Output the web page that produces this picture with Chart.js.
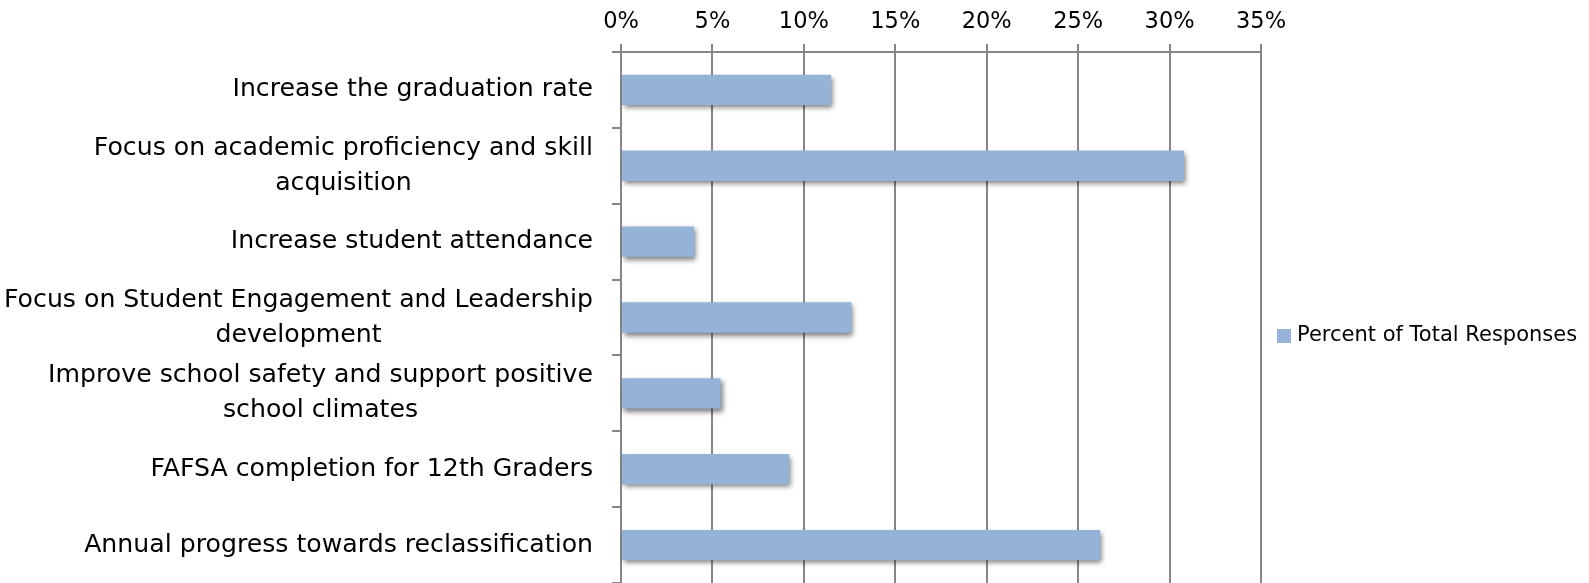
<!DOCTYPE html>
<html>
<head>
<meta charset="utf-8">
<script src="https://cdn.jsdelivr.net/npm/chart.js@4.4.1/dist/chart.umd.min.js"></script>
<style>
  html, body { margin: 0; padding: 0; background: #ffffff; }
  #wrap { width: 1589px; height: 583px; position: relative; }
</style>
</head>
<body>
<div id="wrap"><canvas id="c" width="1589" height="583"></canvas></div>
<script>
// ---- data ----
const categories = [
  "Increase the graduation rate",
  ["Focus on academic proficiency and skill", "acquisition"],
  "Increase student attendance",
  ["Focus on Student Engagement and Leadership", "development"],
  ["Improve school safety and support positive", "school climates"],
  "FAFSA completion for 12th Graders",
  "Annual progress towards reclassification"
];
const seriesName = "Percent of Total Responses";
const percentValues = [11.5, 30.8, 4.0, 12.6, 5.45, 9.2, 26.2];
const tickMin = 0, tickMax = 35, tickStep = 5;

// ---- style ----
const FAMILY = '"DejaVu Sans", "Liberation Sans", sans-serif';
const BAR_COLOR = '#95B3D7';
const GRID_COLOR = '#868686';

// fit font sizes to measured text widths in the reference
const mctx = document.createElement('canvas').getContext('2d');
function fitSize(text, target) {
  mctx.font = '100px ' + FAMILY;
  return Math.round(100 * target / mctx.measureText(text).width * 10) / 10;
}
const catSize = fitSize("Increase the graduation rate", 361);
const tickSize = fitSize("10%", 50);
const legendSize = fitSize(seriesName, 280);

const shadowPlugin = {
  id: 'barShadow',
  beforeDatasetsDraw(chart) {
    const ctx = chart.ctx;
    ctx.save();
    ctx.shadowColor = 'rgba(0,0,0,0.5)';
    ctx.shadowBlur = 5;
    ctx.shadowOffsetX = 2;
    ctx.shadowOffsetY = 3;
  },
  afterDatasetsDraw(chart) {
    chart.ctx.restore();
  }
};

const yLabelPlugin = {
  id: 'yLabels',
  afterDraw(chart) {
    const ctx = chart.ctx;
    const yScale = chart.scales.y;
    const rightEdge = chart.chartArea.left - 28;
    const lineGap = 35;
    ctx.save();
    ctx.font = catSize + 'px ' + FAMILY;
    ctx.fillStyle = '#000000';
    ctx.textAlign = 'center';
    ctx.textBaseline = 'middle';
    categories.forEach((lab, i) => {
      const lines = Array.isArray(lab) ? lab : [lab];
      const blockW = Math.max(...lines.map(l => ctx.measureText(l).width));
      const cx = rightEdge - blockW / 2;
      const cy = yScale.getPixelForValue(i);
      const y0 = cy - (lines.length - 1) * lineGap / 2;
      lines.forEach((l, k) => ctx.fillText(l, cx, y0 + k * lineGap));
    });
    ctx.restore();
  }
};

const legendPlugin = {
  id: 'sideLegend',
  afterDraw(chart) {
    const ctx = chart.ctx;
    const ds = chart.data.datasets[0];
    const boxX = 1277, boxSize = 14, cy = 336;
    ctx.save();
    ctx.fillStyle = ds.backgroundColor;
    ctx.fillRect(boxX, cy - boxSize / 2, boxSize, boxSize);
    ctx.font = legendSize + 'px ' + FAMILY;
    ctx.fillStyle = '#000000';
    ctx.textAlign = 'left';
    ctx.textBaseline = 'middle';
    ctx.fillText(ds.label, 1297, cy);
    ctx.restore();
  }
};

new Chart(document.getElementById('c'), {
  type: 'bar',
  data: {
    labels: categories,
    datasets: [{
      label: seriesName,
      data: percentValues,
      backgroundColor: BAR_COLOR,
      borderWidth: 0,
      barPercentage: 0.4,
      categoryPercentage: 1.0
    }]
  },
  options: {
    indexAxis: 'y',
    responsive: false,
    animation: false,
    devicePixelRatio: 1,
    layout: { padding: { left: 0, right: 328, top: 0, bottom: 0 } },
    plugins: {
      legend: { display: false },
      tooltip: { enabled: false }
    },
    scales: {
      x: {
        position: 'top',
        min: tickMin,
        max: tickMax,
        afterFit(scale) { scale.height = 52; },
        ticks: {
          stepSize: tickStep,
          padding: 8,
          color: '#000000',
          font: { family: FAMILY, size: tickSize },
          callback: v => v + '%'
        },
        grid: {
          color: GRID_COLOR,
          lineWidth: 2,
          tickLength: 8,
          drawOnChartArea: true,
          drawTicks: true
        },
        border: { display: true, color: GRID_COLOR, width: 2 }
      },
      y: {
        afterFit(scale) { scale.width = 621; },
        ticks: { display: false },
        grid: {
          offset: true,
          drawOnChartArea: false,
          drawTicks: true,
          tickLength: 9,
          color: GRID_COLOR,
          lineWidth: 2
        },
        border: { display: true, color: GRID_COLOR, width: 2 }
      }
    }
  },
  plugins: [shadowPlugin, yLabelPlugin, legendPlugin]
});
</script>
</body>
</html>
